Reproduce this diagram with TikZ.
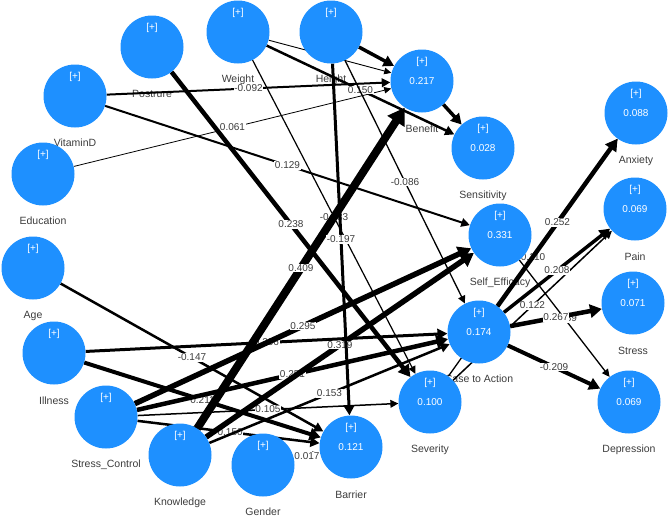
\documentclass[tikz,border=0pt]{standalone}
\usepackage{fontspec}
\setmainfont{Liberation Sans}
\usetikzlibrary{arrows.meta}
\definecolor{lvblue}{RGB}{30,144,255}
\definecolor{txtgray}{RGB}{60,60,60}
\pgfdeclarelayer{names}
\pgfdeclarelayer{paths}
\pgfsetlayers{names,paths,main}

\begin{document}
\begin{tikzpicture}[x=1pt, y=-1pt,
  lv/.style={circle, fill=lvblue, minimum size=63pt, inner sep=0pt, text=white, font=\fontsize{10}{12}\selectfont},
  pl/.style={text=white, yshift=19pt, inner sep=0pt, font=\fontsize{10}{12}\selectfont},
  nm/.style={text=txtgray, font=\fontsize{10.5}{12}\selectfont},
  pth/.style={line width=#1, -{Triangle[length=6pt 1.3, width=5pt 1.8]}},
  coef/.style={fill=white, inner sep=0.8pt, text=txtgray, font=\fontsize{10}{12}\selectfont}]
  \useasboundingbox (0,0) rectangle (669,517);

  % latente Variablen
  \node[lv, label={[pl]center:{[+]}}] (pos) at (152,47)  {};
  \node[lv, label={[pl]center:{[+]}}] (wei) at (238,32)  {};
  \node[lv, label={[pl]center:{[+]}}] (hei) at (331,32)  {};
  \node[lv, label={[pl]center:{[+]}}] (vit) at (75,96)   {};
  \node[lv, label={[pl]center:{[+]}}] (edu) at (43,174)  {};
  \node[lv, label={[pl]center:{[+]}}] (age) at (33,268)  {};
  \node[lv, label={[pl]center:{[+]}}] (ill) at (54,353)  {};
  \node[lv, label={[pl]center:{[+]}}] (sc)  at (106,417) {};
  \node[lv, label={[pl]center:{[+]}}] (kno) at (180,455) {};
  \node[lv, label={[pl]center:{[+]}}] (gen) at (263,465) {};
  \node[lv, label={[pl]center:{[+]}}] (ben) at (422,81)  {0.217};
  \node[lv, label={[pl]center:{[+]}}] (sen) at (483,148) {0.028};
  \node[lv, label={[pl]center:{[+]}}] (se)  at (500,235) {0.331};
  \node[lv, label={[pl]center:{[+]}}] (cta) at (479,332) {0.174};
  \node[lv, label={[pl]center:{[+]}}] (sev) at (430,402) {0.100};
  \node[lv, label={[pl]center:{[+]}}] (bar) at (351,447) {0.121};
  \node[lv, label={[pl]center:{[+]}}] (anx) at (636,113) {0.088};
  \node[lv, label={[pl]center:{[+]}}] (pain) at (635,209) {0.069};
  \node[lv, label={[pl]center:{[+]}}] (str) at (633,303) {0.071};
  \node[lv, label={[pl]center:{[+]}}] (dep) at (629,402) {0.069};

  % Namen unter den Kreisen
  \begin{pgfonlayer}{names}
    \node[nm] at ([yshift=-47pt]pos) {Postrure};
    \node[nm] at ([yshift=-48pt]wei) {Weight};
    \node[nm] at ([yshift=-48pt]hei) {Height};
    \node[nm] at ([yshift=-47pt]vit) {VitaminD};
    \node[nm] at ([yshift=-47pt]edu) {Education};
    \node[nm] at ([yshift=-48pt]age) {Age};
    \node[nm] at ([yshift=-48pt]ill) {Illness};
    \node[nm] at ([yshift=-48pt]sc)  {Stress\_Control};
    \node[nm] at ([yshift=-48pt]kno) {Knowledge};
    \node[nm] at ([yshift=-47pt]gen) {Gender};
    \node[nm] at ([yshift=-48pt]ben) {Benefit};
    \node[nm] at ([yshift=-48pt]sen) {Sensitivity};
    \node[nm] at ([yshift=-48pt]se)  {Self\_Efficacy};
    \node[nm] at ([yshift=-47pt]cta) {Case to Action};
    \node[nm] at ([yshift=-48pt]sev) {Severity};
    \node[nm] at ([yshift=-48pt]bar) {Barrier};
    \node[nm] at ([yshift=-48pt]anx) {Anxiety};
    \node[nm] at ([yshift=-48pt]pain) {Pain};
    \node[nm] at ([yshift=-48pt]str) {Stress};
    \node[nm] at ([yshift=-48pt]dep) {Depression};
  \end{pgfonlayer}

  % Pfade
  \begin{pgfonlayer}{paths}
    \draw[pth=2pt]   (vit) -- node[coef] {-0.092} (ben);
    \draw[pth=0.8pt] (edu) -- node[coef] {0.061} (ben);
    \draw[pth=0.9pt] (wei) -- (ben);
    \draw[pth=3.5pt] (hei) -- (ben);
    \draw[pth=3.5pt] (ben) -- (sen);
    \draw[pth=2.5pt] (wei) -- node[coef] {0.150} (sen);
    \draw[pth=2pt]   (vit) -- node[coef] {0.129} (se);
    \draw[pth=1.2pt] (wei) -- node[coef] {-0.083} (sev);
    \draw[pth=4.5pt] (pos) -- node[coef] {0.238} (sev);
    \draw[pth=1.3pt] (hei) -- node[coef] {-0.086} (cta);
    \draw[pth=2.5pt] (age) -- node[coef] {-0.147} (bar);
    \draw[pth=4pt]   (ill) -- node[coef] {0.211} (bar);
    \draw[pth=3pt]   (ill) -- node[coef] {0.206} (cta);
    \draw[pth=2.5pt] (sc)  -- node[coef] {-0.150} (bar);
    \draw[pth=1.5pt] (sc)  -- node[coef] {0.105} (sev);
    \draw[pth=5.5pt] (sc)  -- node[coef] {0.295} (se);
    \draw[pth=4.5pt] (sc)  -- node[coef] {0.251} (cta);
    \draw[pth=5.5pt] (kno) -- node[coef] {0.319} (se);
    \draw[pth=8pt]   (kno) -- node[coef] {0.409} (ben);
    \draw[pth=2.5pt] (kno) -- node[coef] {0.153} (cta);
    \draw[pth=3pt]   (hei) -- node[coef] {-0.197} (bar);
    \draw[pth=1pt]   (gen) -- node[coef] {0.017} (bar);
    \draw[pth=1.3pt] (sev) -- node[coef] {0.110} (anx);
    \draw[pth=1.5pt] (sev) -- node[coef] {0.122} (pain);
    \draw[pth=4.5pt] (cta) -- node[coef] {0.252} (anx);
    \draw[pth=3.5pt] (cta) -- node[coef] {0.208} (pain);
    \draw[pth=1.3pt] (se)  -- node[coef] {0.089} (dep);
    \draw[pth=4.5pt] (cta) -- node[coef] {0.267} (str);
    \draw[pth=4pt]   (cta) -- node[coef] {-0.209} (dep);
  \end{pgfonlayer}
\end{tikzpicture}
\end{document}
